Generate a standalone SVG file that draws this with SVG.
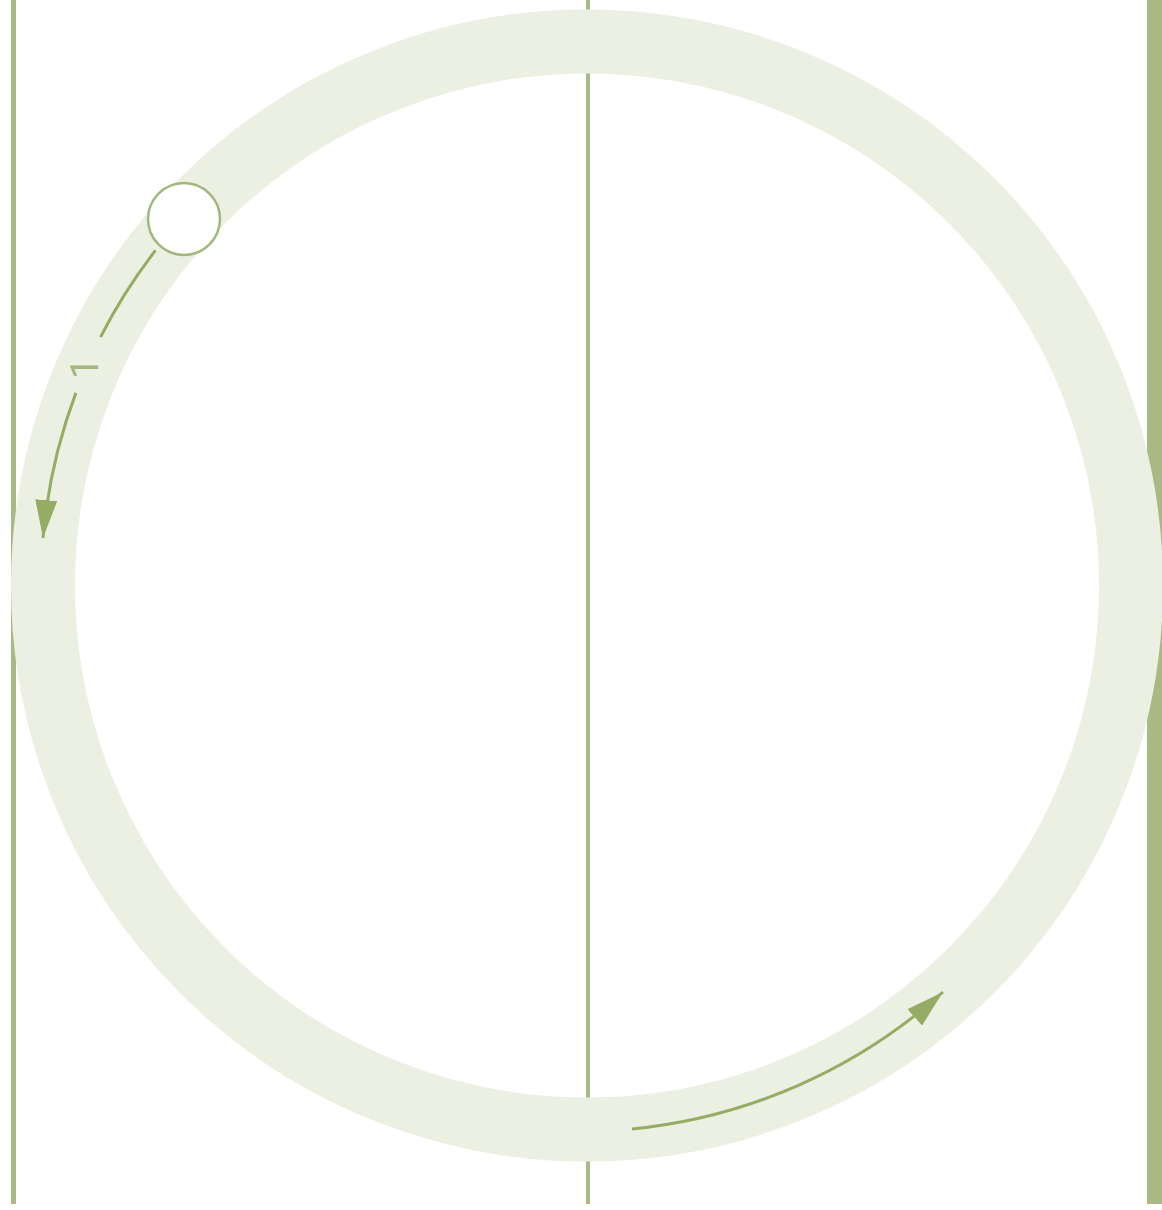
<svg xmlns="http://www.w3.org/2000/svg" width="1162" height="1210" viewBox="0 0 1162 1210">
  <style>
    .lane { fill: #a8b984; }
    .ring { fill: none; stroke: #ebf0e2; stroke-width: 64; }
    .node { fill: #ffffff; stroke: #a1b77b; stroke-width: 2.5; }
    .conn { fill: none; stroke: #96ac64; stroke-width: 3; }
    .lbl { font-family: Roboto, "Liberation Sans", sans-serif; font-size: 38px; fill: #a3b67c; }
  </style>
  <defs>
    <marker id="head" markerUnits="userSpaceOnUse" markerWidth="38" markerHeight="24" viewBox="0 0 38 24" refX="38" refY="12" orient="auto">
      <path d="M0,1 L38,12 L0,23 Z" fill="#96ac64"/>
    </marker>
  </defs>
  <rect width="1162" height="1210" fill="#ffffff"/>
  <g id="lanes">
    <rect class="lane" x="11" y="0" width="5" height="1204"/>
    <rect class="lane" x="586" y="0" width="4" height="1204"/>
    <rect class="lane" x="1147" y="0" width="15" height="1204"/>
  </g>
  <g id="cycle">
    <circle class="ring" cx="587" cy="585.5" r="544"/>
  </g>
  <g id="start-node">
    <circle class="node" cx="184" cy="219" r="36"/>
  </g>
  <g id="connectors">
    <path class="conn" d="M155.5,250.4 A546,546 0 0 0 100.5,337.1"/>
    <text class="lbl" transform="translate(97.5,379) rotate(-90)">1</text>
    <path class="conn" d="M75.9,392.9 A546,546 0 0 0 43,538" marker-end="url(#head)"/>
    <path class="conn" d="M632,1129 A546,546 0 0 0 943,992" marker-end="url(#head)"/>
  </g>
</svg>
